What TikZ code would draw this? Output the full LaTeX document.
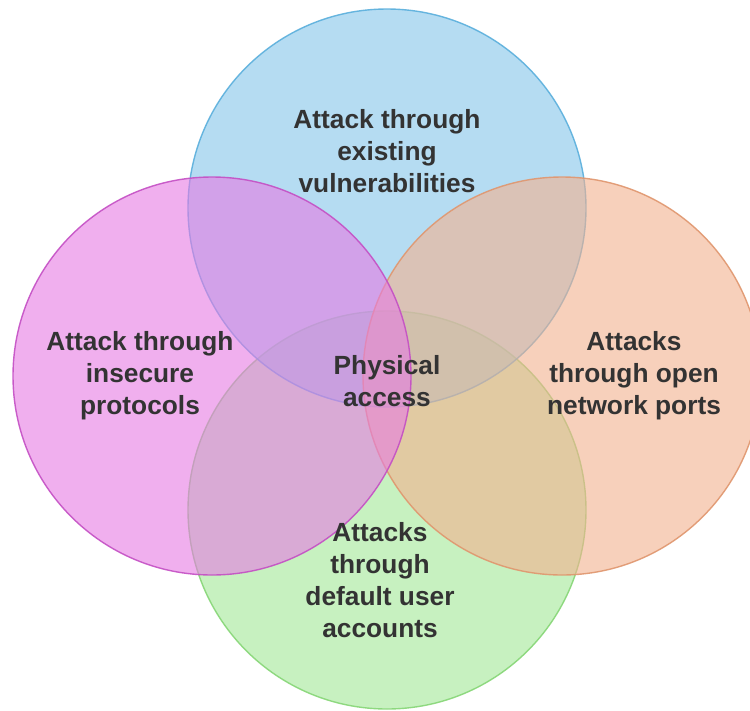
\documentclass[tikz,border=0pt]{standalone}
\usepackage{fontspec}
\setmainfont{Liberation Sans}
\begin{document}
\begin{tikzpicture}[x=1pt,y=-1pt,
  venn/.style={line width=1.4pt, fill opacity=0.6, draw opacity=0.9},
  lbl/.style={align=center, text=textgray, font=\bfseries\fontsize{26.3}{32}\selectfont, inner sep=0pt}]
\definecolor{textgray}{HTML}{333333}
\definecolor{cblue}{HTML}{84C6EA}
\definecolor{cmag}{HTML}{E67BE3}
\definecolor{corange}{HTML}{F3B18F}
\definecolor{cgreen}{HTML}{A3E996}
\definecolor{bblue}{HTML}{5AAFDC}
\definecolor{bmag}{HTML}{C44FC4}
\definecolor{borange}{HTML}{E0966E}
\definecolor{bgreen}{HTML}{86D676}
\useasboundingbox (0,0) rectangle (750,710);
\clip (0,0) rectangle (750,710);
\fill[white] (0,0) rectangle (750,710);
\draw[venn, fill=cgreen, draw=bgreen] (387,510) circle[radius=199];
\draw[venn, fill=cblue, draw=bblue] (387,208) circle[radius=199];
\draw[venn, fill=corange, draw=borange] (562,376) circle[radius=199];
\draw[venn, fill=cmag, draw=bmag] (212,376) circle[radius=199];
\node[lbl] (top) at (387,151) {Attack through\\existing\\vulnerabilities};
\node[lbl] (left) at (140,376) {Attack through\\insecure\\protocols};
\node[lbl] (right) at (634,376) {Attacks\\through open\\network ports};
\node[lbl] (center) at (387,381) {Physical\\access};
\node[lbl] (bottom) at (380,580) {Attacks\\through\\default user\\accounts};
\end{tikzpicture}
\end{document}
